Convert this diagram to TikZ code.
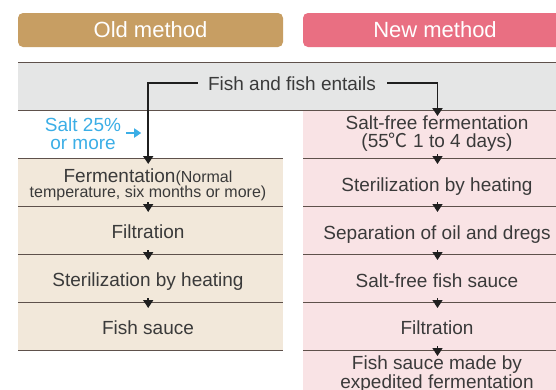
\documentclass[tikz,border=0pt]{standalone}
\usepackage{fontspec}
\setmainfont{Liberation Sans}
\newfontfamily\cjk{Noto Sans CJK JP}
\usetikzlibrary{arrows.meta,calc}
\definecolor{oldhead}{HTML}{C79E63}
\definecolor{newhead}{HTML}{E96F82}
\definecolor{oldfill}{HTML}{F2E8DA}
\definecolor{newfill}{HTML}{F9E3E5}
\definecolor{bandfill}{HTML}{E5E6E6}
\definecolor{sepline}{HTML}{5E514B}
\definecolor{txt}{HTML}{3A3A3A}
\definecolor{saltblue}{HTML}{3BAEE6}
\begin{document}
\begin{tikzpicture}[x=1pt,y=-1pt,
  header/.style={rounded corners=5pt, minimum height=34pt, inner sep=0pt, text=white, font=\fontsize{22}{24}\selectfont},
  oldbox/.style={fill=oldfill, minimum width=265pt, minimum height=48pt, inner sep=0pt, anchor=north west},
  newbox/.style={fill=newfill, minimum width=270pt, minimum height=48pt, inner sep=0pt, anchor=north west},
  lbl/.style={text=txt, font=\fontsize{19}{17}\selectfont, align=center, inner sep=0pt},
  one/.style={text height=14pt, text depth=0pt},
  sepl/.style={draw=sepline, line width=1pt},
  arr/.style={-{Triangle[width=10pt,length=8pt]}, line width=1.9pt, draw=black!88},
  sarr/.style={-{Triangle[width=10pt,length=8pt]}, line width=1.5pt, draw=black!88},
]
\useasboundingbox (0,0) rectangle (556,389);
\clip (0,0) rectangle (556,389);

% headers
\node[header, fill=oldhead, minimum width=265pt] (oldh) at (150.5,30) {Old method};
\node[header, fill=newhead, minimum width=264pt] (newh) at (435,30) {New method};

% band
\node[fill=bandfill, minimum width=560pt, minimum height=48pt, anchor=north west, inner sep=0pt] (band) at (18,62) {};

% new column boxes
\node[newbox] (n1) at (303,110) {};
\node[newbox] (n2) at (303,158) {};
\node[newbox] (n3) at (303,206) {};
\node[newbox] (n4) at (303,254) {};
\node[newbox] (n5) at (303,302) {};
\node[newbox] (n6) at (303,350) {};

% old column boxes
\node[oldbox] (o1) at (18,158) {};
\node[oldbox] (o2) at (18,206) {};
\node[oldbox] (o3) at (18,254) {};
\node[oldbox] (o4) at (18,302) {};

% separator lines
\draw[sepl] (band.north west) -- (band.north east);
\draw[sepl] (band.south west) -- (band.south east);
\foreach \b in {o1,o2,o3,o4} {\draw[sepl] (\b.north west) -- (\b.north east);}
\draw[sepl] (o4.south west) -- (o4.south east);
\foreach \b in {n2,n3,n4,n5,n6} {\draw[sepl] (\b.north west) -- (\b.north east);}

% texts
\node[lbl, one] (fish) at (292,83) {Fish and fish entails};
\node[text=saltblue, font=\fontsize{19}{18}\selectfont, align=center, inner sep=0pt] (salt) at (83,134) {Salt 25\%\\or more};
\node[lbl, font=\fontsize{16}{15}\selectfont] (s1) at (148,185) {{\fontsize{19}{15}\selectfont Fermentation}(Normal\\temperature, six months or more)};
\node[lbl, one] (s2) at (148,231) {Filtration};
\node[lbl, one] (s3) at (148,279) {Sterilization by heating};
\node[lbl, one] (s4) at (148,327) {Fish sauce};
\node[lbl, font=\fontsize{19}{18}\selectfont] (t1) at (437,134) {Salt-free fermentation\\(55{\cjk ℃} 1 to 4 days)};
\node[lbl, one] (t2) at (437,184) {Sterilization by heating};
\node[lbl, one] (t3) at (437,232) {Separation of oil and dregs};
\node[lbl, one] (t4) at (437,280) {Salt-free fish sauce};
\node[lbl, one] (t5) at (437,327) {Filtration};
\node[lbl, font=\fontsize{19}{15}\selectfont] (t6) at (437,374) {Fish sauce made by\\expedited fermentation};

% main arrows
\draw[arr] ($(fish.west)+(-10,0)$) -| ($(o1.north)+(-2.5,6)$);
\draw[arr] ($(fish.east)+(11,0)$) -| ($(n1.north west)+(134.5,6)$);
\draw[-{Triangle[width=9pt,length=7pt]}, draw=saltblue, line width=2.5pt] ($(salt.east)+(5,-1)$) -- ++(15,0);

% step arrows
\foreach \b in {o2,o3,o4} {\draw[sarr] ($(\b.north)+(-2.5,-4)$) -- ++(0,10);}
\foreach \b in {n2,n3,n4,n5,n6} {\draw[sarr] ($(\b.north west)+(134.5,-4)$) -- ++(0,10);}
\end{tikzpicture}
\end{document}
